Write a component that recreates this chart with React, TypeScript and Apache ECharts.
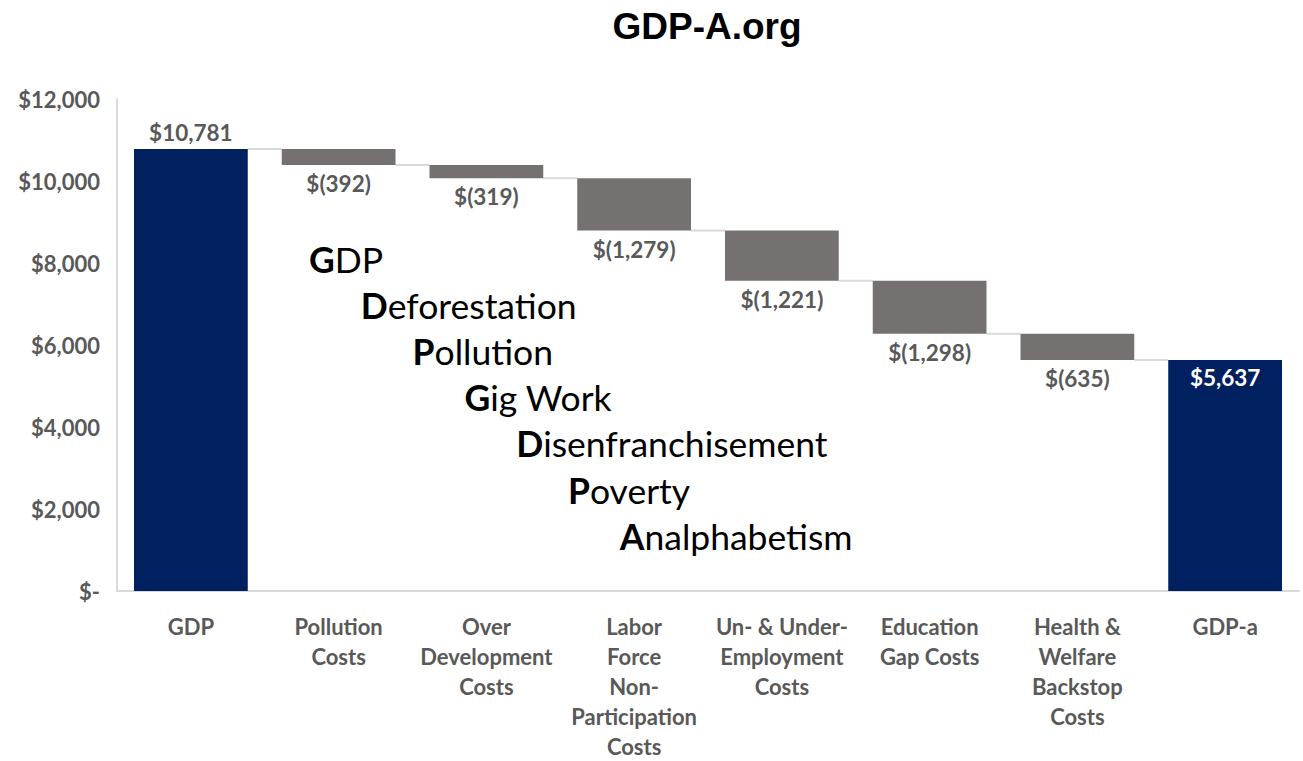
import React, { useEffect, useRef } from "react";
import * as echarts from "echarts";

const categories = [
  "GDP",
  "Pollution\nCosts",
  "Over\nDevelopment\nCosts",
  "Labor\nForce\nNon-\nParticipation\nCosts",
  "Un- & Under-\nEmployment\nCosts",
  "Education\nGap Costs",
  "Health &\nWelfare\nBackstop\nCosts",
  "GDP-a",
];
// signed change of each step (first and last are totals)
const startTotal = 10781;
const costs = [-392, -319, -1279, -1221, -1298, -635];
const endTotal = 5637;
const yTicks = [0, 2000, 4000, 6000, 8000, 10000, 12000];
const overlayWords = [
  ["G", "DP"],
  ["D", "eforestation"],
  ["P", "ollution"],
  ["G", "ig Work"],
  ["D", "isenfranchisement"],
  ["P", "overty"],
  ["A", "nalphabetism"],
];

const NAVY = "#002060";
const GREY = "#767171";
const LABEL = "#595959";
const FONT = "Lato, 'Open Sans', sans-serif";

function fmt(v: number) {
  return "$" + Math.abs(v).toLocaleString("en-US");
}

export default function App() {
  const ref = useRef<HTMLDivElement>(null);
  useEffect(() => {
    if (!ref.current) return;
    const chart = echarts.init(ref.current, undefined, { renderer: "svg" });

    // running totals
    const levels: number[] = [startTotal];
    costs.forEach((c) => levels.push(levels[levels.length - 1] + c));
    const base: number[] = [0];
    const visible: any[] = [
      {
        value: startTotal,
        itemStyle: { color: NAVY },
        label: { show: true, position: "top", distance: 5, formatter: fmt(startTotal) },
      },
    ];
    costs.forEach((c, i) => {
      base.push(levels[i + 1]);
      visible.push({
        value: -c,
        itemStyle: { color: GREY },
        label: { show: true, position: "bottom", distance: 7, formatter: "$(" + Math.abs(c).toLocaleString("en-US") + ")" },
      });
    });
    base.push(0);
    visible.push({
      value: endTotal,
      itemStyle: { color: NAVY },
      label: { show: true, position: "insideTop", distance: 6, color: "#ffffff", formatter: fmt(endTotal) },
    });

    const connectors = levels.map((lv, i) => [i, lv]);

    chart.setOption({
      animation: false,
      title: {
        text: "GDP-A.org",
        left: 702,
        textAlign: "center",
        top: 3,
        textStyle: { fontFamily: "'Liberation Sans', Arial, sans-serif", fontWeight: "bold", fontSize: 37, color: "#000" },
      },
      grid: { left: 117, right: 4, top: 99, bottom: 165, containLabel: false },
      xAxis: {
        type: "category",
        data: categories,
        axisLine: { show: true, lineStyle: { color: "#d9d9d9", width: 2 } },
        axisTick: { show: false },
        axisLabel: {
          interval: 0,
          margin: 20,
          lineHeight: 30,
          fontSize: 22,
          fontWeight: "bold",
          color: LABEL,
          fontFamily: FONT,
        },
      },
      yAxis: {
        type: "value",
        min: yTicks[0],
        max: yTicks[yTicks.length - 1],
        interval: 2000,
        splitLine: { show: false },
        axisLine: { show: true, lineStyle: { color: "#d9d9d9", width: 2 } },
        axisTick: { show: false },
        axisLabel: {
          margin: 17,
          fontSize: 22,
          fontWeight: "bold",
          color: LABEL,
          fontFamily: FONT,
          formatter: (v: number) => (v === 0 ? "$-" : "$" + v.toLocaleString("en-US")),
        },
      },
      series: [
        {
          type: "bar",
          stack: "w",
          data: base,
          itemStyle: { color: "transparent" },
          barWidth: "77%",
          silent: true,
        },
        {
          type: "bar",
          stack: "w",
          data: visible,
          barWidth: "77%",
          label: { fontSize: 22.5, fontWeight: "bold", color: LABEL, fontFamily: FONT },
        },
        {
          type: "custom",
          data: connectors,
          z: 1,
          renderItem: (params: any, api: any) => {
            const i = api.value(0);
            const lv = api.value(1);
            const p0 = api.coord([i, lv]);
            const p1 = api.coord([i + 1, lv]);
            const bw = api.size([1, 0])[0] * 0.77;
            return {
              type: "line",
              shape: { x1: p0[0] + bw / 2, y1: p0[1], x2: p1[0] - bw / 2, y2: p1[1] },
              style: { stroke: "#d9d9d9", lineWidth: 2 },
            };
          },
        },
      ],
      graphic: overlayWords.map((w, i) => ({
        type: "text",
        x: 309 + i * 51.8,
        y: 259 + i * 46.2,
        style: {
          text: "{b|" + w[0] + "}{r|" + w[1] + "}",
          verticalAlign: "middle",
          rich: {
            b: { fontSize: 35.5, fontWeight: "bold", fill: "#000", fontFamily: FONT },
            r: { fontSize: 35.5, fontWeight: "normal", fill: "#000", fontFamily: FONT },
          },
        },
      })),
    });
    return () => chart.dispose();
  }, []);
  return (
    <div
      ref={ref}
      style={{ position: "fixed", left: 0, top: 0, width: 1303, height: 761, background: "#fff" }}
    />
  );
}
